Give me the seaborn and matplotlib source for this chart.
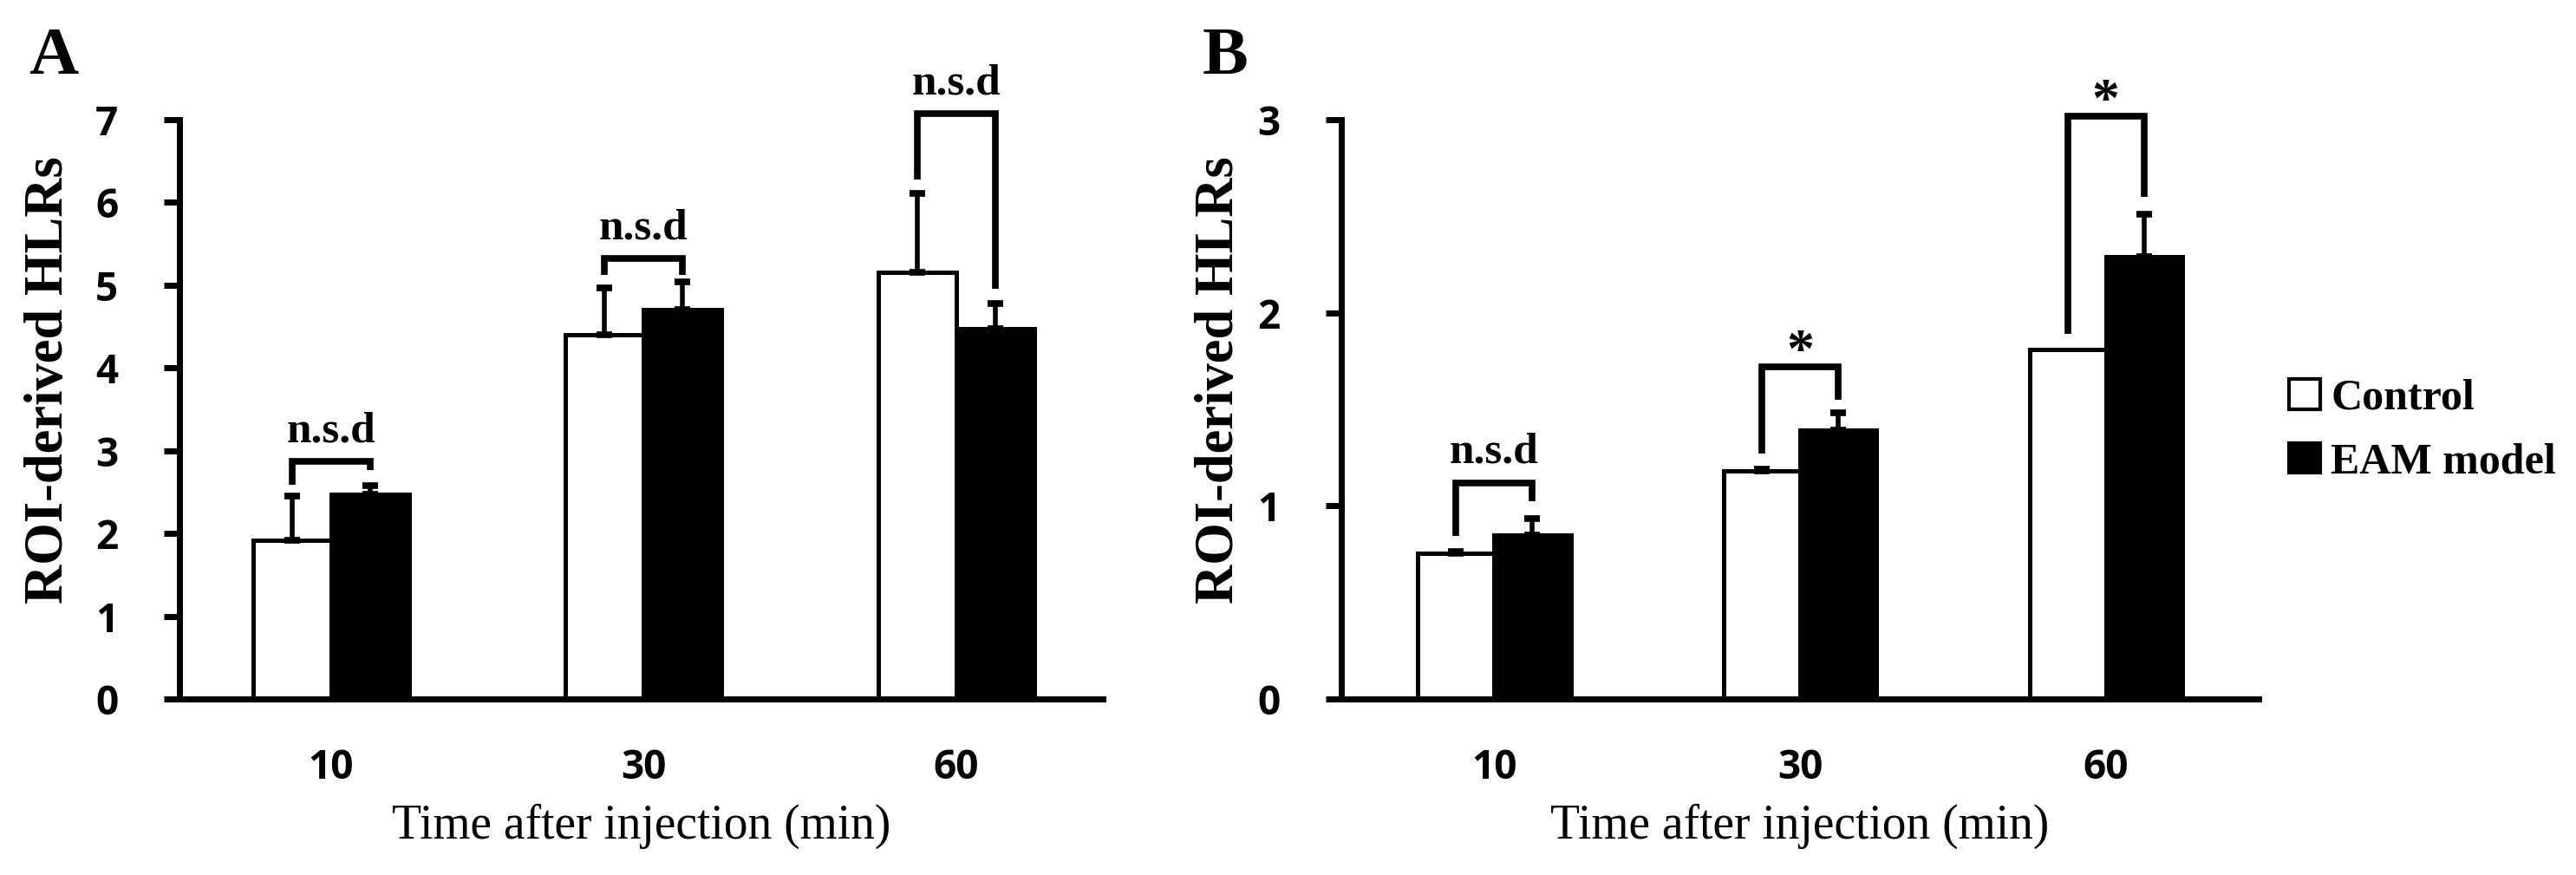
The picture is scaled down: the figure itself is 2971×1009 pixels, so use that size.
import numpy as np
import pandas as pd
import matplotlib.pyplot as plt
from matplotlib.patches import Patch
import seaborn as sns

# datos
times = ["10", "30", "60"]
groups = ["Control", "EAM model"]

a_control = [1.92, 4.40, 5.16]
a_control_sd = [0.53, 0.57, 0.95]
a_eam = [2.47, 4.71, 4.47]
a_eam_sd = [0.11, 0.33, 0.31]

b_control = [0.755, 1.18, 1.81]
b_control_sd = [0.01, 0.01, 0.0]
b_eam = [0.85, 1.39, 2.29]
b_eam_sd = [0.085, 0.09, 0.22]

# corchetes de significancia
a_bracket_top = [2.87, 5.32, 7.07]
a_bracket_left = [2.59, 5.12, 6.28]
a_bracket_right = [2.77, 5.12, 4.96]
a_marks = ["n.s.d", "n.s.d", "n.s.d"]

b_bracket_top = [1.12, 1.72, 3.02]
b_bracket_left = [0.845, 1.27, 1.89]
b_bracket_right = [1.025, 1.55, 2.60]
b_marks = ["n.s.d", "*", "*"]

sns.set_theme(style="white")
plt.rcParams["font.family"] = ["Open Sans", "DejaVu Sans"]
plt.rcParams["font.weight"] = "bold"
for k in ["text.color", "axes.labelcolor", "xtick.color", "ytick.color",
          "axes.edgecolor"]:
    plt.rcParams[k] = "black"

serif = "Liberation Serif"
W, H = 2971, 1009
colors = {"Control": "white", "EAM model": "black"}


def panel(ax, ctrl, ctrl_sd, eam, eam_sd, tops, lefts, rights, marks,
          ymax, xlim, ylab_x):
    df = pd.DataFrame({
        "time": times * 2,
        "group": [groups[0]] * 3 + [groups[1]] * 3,
        "value": ctrl + eam,
    })
    sns.barplot(data=df, x="time", y="value", hue="group", order=times,
                hue_order=groups, palette=colors, edgecolor="black",
                linewidth=3.6, width=0.5, errorbar=None, legend=False,
                saturation=1, ax=ax)

    centers = []
    for cont, sd in zip(ax.containers, [ctrl_sd, eam_sd]):
        xs = np.array([b.get_x() + b.get_width() / 2 for b in cont])
        ys = np.array([b.get_height() for b in cont])
        sd = np.array(sd)
        centers.append(xs)
        m = sd > 0
        ax.errorbar(xs[m], ys[m], yerr=[np.zeros(m.sum()), sd[m]],
                    fmt="none", ecolor="black", elinewidth=4, capsize=6.5,
                    capthick=5.5, zorder=3)

    for i in range(len(times)):
        x1, x2 = centers[0][i], centers[1][i]
        ax.plot([x1, x1, x2, x2], [lefts[i], tops[i], tops[i], rights[i]],
                color="black", lw=5.5, solid_joinstyle="miter",
                solid_capstyle="butt", clip_on=False, zorder=4)
        if marks[i] == "*":
            off, fs = 0, 46
        else:
            off, fs = 16.5, 37
        ax.annotate(marks[i], xy=((x1 + x2) / 2, tops[i]), xytext=(0, off),
                    textcoords="offset points", ha="center", va="baseline",
                    fontsize=fs, family=serif, weight="bold", color="black",
                    annotation_clip=False)

    ax.set_xlim(*xlim)
    ax.set_ylim(0, ymax)
    ax.set_yticks(range(0, ymax + 1))
    sns.despine(ax=ax)
    for s in ["left", "bottom"]:
        ax.spines[s].set_linewidth(5)
        ax.spines[s].set_color("black")
    ax.tick_params(axis="y", length=13, width=5, pad=38, labelsize=33,
                   colors="black", left=True)
    ax.tick_params(axis="x", length=0, pad=40, labelsize=33, colors="black")
    ax.set_xlabel("Time after injection (min)", fontsize=40, family=serif,
                  weight="normal", labelpad=13, color="black")
    ax.set_ylabel("ROI-derived HLRs", fontsize=45, family=serif,
                  weight="bold", color="black")
    ax.yaxis.set_label_coords(ylab_x, 0.551)


fig = plt.figure(figsize=(W / 100, H / 100), dpi=100)
axA = fig.add_axes([207 / W, 1 - 806 / H, (1272 - 207) / W, 668 / H])
axB = fig.add_axes([1547 / W, 1 - 806 / H, (2605 - 1547) / W, 668 / H])

panel(axA, a_control, a_control_sd, a_eam, a_eam_sd, a_bracket_top,
      a_bracket_left, a_bracket_right, a_marks, 7, (-0.485, 2.47), -0.1136)
panel(axB, b_control, b_control_sd, b_eam, b_eam_sd, b_bracket_top,
      b_bracket_left, b_bracket_right, b_marks, 3, (-0.5, 2.5), -0.105)

fig.text(33 / W, 1 - 85 / H, "A", fontsize=57, family=serif, weight="bold",
         va="baseline", color="black")
fig.text(1387 / W, 1 - 85 / H, "B", fontsize=57, family=serif, weight="bold",
         va="baseline", color="black")

handles = [Patch(facecolor="white", edgecolor="black", linewidth=3),
           Patch(facecolor="black", edgecolor="black", linewidth=3)]
fig.legend(handles, groups, loc="upper left",
           bbox_to_anchor=(2640 / W, 1 - 437 / H), frameon=False,
           prop={"family": serif, "weight": "bold", "size": 36},
           handlelength=0.72, handleheight=0.68, handletextpad=0.25,
           labelspacing=0.55, borderpad=0, borderaxespad=0)

fig.savefig("out.png", dpi=100)
plt.close()
